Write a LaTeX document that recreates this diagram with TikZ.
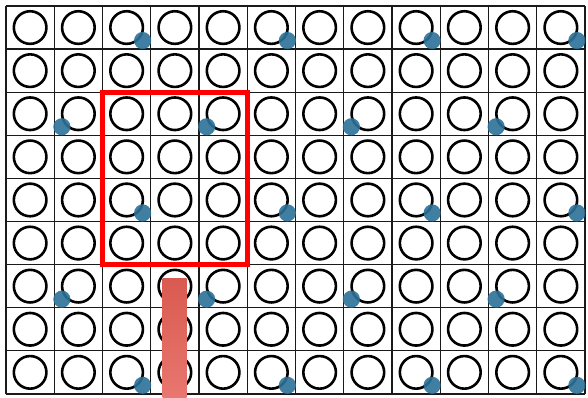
\documentclass[tikz,border=0pt]{standalone}
\definecolor{dotblue}{HTML}{2C7298}
\definecolor{bartop}{HTML}{D95A50}
\definecolor{barbot}{HTML}{E8776F}
\definecolor{gridgrey}{HTML}{1A1A1A}
\begin{document}
\begin{tikzpicture}[x=1pt,y=-1pt,
  cellline/.style={line width=1.3pt, draw=gridgrey},
  ring/.style={line width=2.6pt, draw=black},
  bluedot/.style={fill=dotblue, opacity=0.9},
  focusbox/.style={draw=red, line width=4.8pt},
  redbar/.style={top color=bartop, bottom color=barbot}]
\useasboundingbox (0,0) rectangle (588,397);
\fill[white] (0,0) rectangle (588,397);
% grid
\foreach \i in {0,...,12} \draw[cellline] ({6+48.25*\i},6) -- ({6+48.25*\i},394);
\foreach \j in {0,...,9} \draw[cellline] (6,{6+43.1*\j}) -- (585,{6+43.1*\j});
% rings
\foreach \i in {0,...,11} \foreach \j in {0,...,8}
  \draw[ring] ({6+48.25*(\i+0.5)},{6+43.1*(\j+0.5)}) circle[radius=16.3pt];
% blue dots, bottom-right
\foreach \j in {0,4,8} \foreach \i in {2,5,8,11}
  \fill[bluedot] ({6+48.25*(\i+0.5)+16},{6+43.1*(\j+0.5)+13}) circle[radius=8.6pt];
% blue dots, bottom-left
\foreach \j in {2,6} \foreach \i in {1,4,7,10}
  \fill[bluedot] ({6+48.25*(\i+0.5)-16.5},{6+43.1*(\j+0.5)+13}) circle[radius=8.6pt];
% red frame
\draw[focusbox] (102.5,92.2) rectangle (247.25,264.6);
% red bar
\shade[redbar] (162.7,278.5) rectangle (186.7,397);
\end{tikzpicture}
\end{document}
